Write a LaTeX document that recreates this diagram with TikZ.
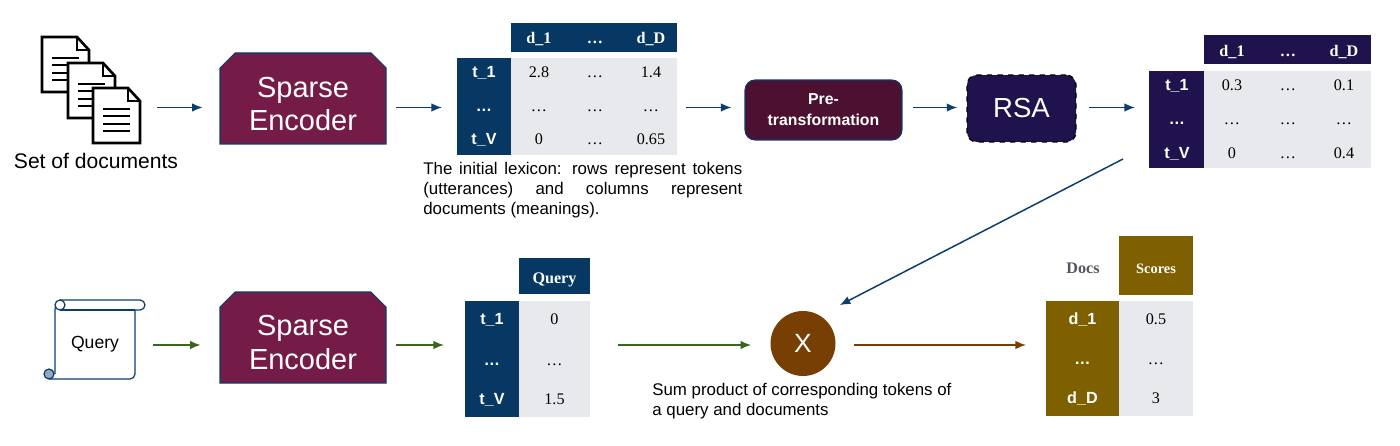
\documentclass[tikz,border=0pt]{standalone}
\usepackage{fontspec}
\setmainfont{Liberation Serif}
\setsansfont{Liberation Sans}
\usetikzlibrary{arrows.meta}
\definecolor{navyfill}{HTML}{073763}
\definecolor{navyline}{HTML}{0B3D6E}
\definecolor{encfill}{HTML}{741B47}
\definecolor{prefill}{HTML}{4C1130}
\definecolor{rsafill}{HTML}{20124D}
\definecolor{ochrefill}{HTML}{7F6000}
\definecolor{mulfill}{HTML}{783F04}
\definecolor{bodyfill}{HTML}{E8E9ED}
\definecolor{flowgreen}{HTML}{38661D}
\definecolor{docsgrey}{HTML}{555560}

\begin{document}
\begin{tikzpicture}[x=0.02cm,y=-0.02cm,
	every node/.style={font=\sffamily},
	encoder/.style={text=white,inner sep=0pt,minimum width=3.32cm,align=center,font=\sffamily\fontsize{16.5}{19.3}\selectfont},
	tabcell/.style={inner sep=0pt,outer sep=0pt},
	valtext/.style={anchor=base,inner sep=0pt,font=\rmfamily\fontsize{9.2}{11}\selectfont},
	headtext/.style={anchor=base,inner sep=0pt,text=white,font=\rmfamily\bfseries\fontsize{9.2}{11}\selectfont},
	rowtext/.style={anchor=base,inner sep=0pt,text=white,font=\sffamily\bfseries\fontsize{9.2}{11}\selectfont},
	caption/.style={inner sep=0pt,font=\sffamily\fontsize{9.6}{11.4}\selectfont},
	flow/.style={-{Latex[length=6pt,width=4.8pt]},navyline,line width=0.85pt},
	gap/.style 2 args={shorten <=#1*0.569pt,shorten >=#2*0.569pt},
	encshape/.pic={
		\draw[fill=encfill,draw=navyline,line width=0.6pt] (0,15) -- (15,0) -- (151,0) -- (166,15) -- (166,91) -- (0,91) -- cycle;
	},
	docicon/.pic={
		\draw[line width=1.5pt,fill=white] (0,0) -- (35,0) -- (47,13) -- (47,55) -- (0,55) -- cycle;
		\draw[line width=1.5pt] (35,0) -- (35,13) -- (47,13);
		\draw[line width=1.5pt] (10,21) -- (37,21) (10,28) -- (37,28) (10,36) -- (37,36) (10,43) -- (37,43);
	}]
	\useasboundingbox (0,0) rectangle (1400,446);
	\coordinate (rowA) at (0,107.5);
	\coordinate (rowB) at (0,345);
	\coordinate (crossTail) at (1123,159);

	\pic at (42,37) {docicon};
	\pic at (68,63) {docicon};
	\pic at (93,88) {docicon};
	\node[inner sep=0pt,minimum width=1.95cm,minimum height=2.12cm] (docset) at (90.7,90) {};
	\node[inner sep=0pt,font=\sffamily\fontsize{12}{14}\selectfont] (docname) at (96,161) {Set of documents};

	\pic at (220,53) {encshape};
	\pic at (220,292) {encshape};
	\node[encoder] (encA) at (303,104) {Sparse\\Encoder};
	\node[encoder] (encB) at (303,342.5) {Sparse\\Encoder};

	\node[tabcell,fill=navyfill,minimum width=3.32cm,minimum height=0.58cm] (tabAhead) at (594,37.5) {};
	\node[tabcell,fill=navyfill,minimum width=1.08cm,minimum height=1.94cm] (tabArows) at (484,106.5) {};
	\node[tabcell,fill=bodyfill,minimum width=3.32cm,minimum height=1.94cm] (tabAbody) at (594,106.5) {};
	\node[headtext] (tabAh1) at (539,44) {d\_1};
	\node[headtext] (tabAh2) at (595,44) {…};
	\node[headtext] (tabAh3) at (651,44) {d\_D};
	\node[rowtext] (tabAr1) at (484,78) {t\_1};
	\node[rowtext] (tabAr2) at (484,112) {…};
	\node[rowtext] (tabAr3) at (484,145) {t\_V};
	\node[valtext] (tabAv11) at (539,78) {2.8};
	\node[valtext] (tabAv12) at (595,78) {…};
	\node[valtext] (tabAv13) at (651,78) {1.4};
	\node[valtext] (tabAv21) at (539,112) {…};
	\node[valtext] (tabAv22) at (595,112) {…};
	\node[valtext] (tabAv23) at (651,112) {…};
	\node[valtext] (tabAv31) at (539,145) {0};
	\node[valtext] (tabAv32) at (595,145) {…};
	\node[valtext] (tabAv33) at (651,145) {0.65};
	\node[caption,anchor=north west,text width=6.38cm,align=justify] (lexnote) at (423,162) {\hyphenpenalty=10000 \tolerance=9999 The initial lexicon: rows represent tokens (utterances) and columns represent documents (meanings).\par};

	\node[fill=prefill,draw=navyline,line width=0.6pt,rounded corners=0.2cm,inner sep=0pt,minimum width=3.14cm,minimum height=1.2cm,text=white,align=center,font=\sffamily\bfseries\fontsize{9}{11.8}\selectfont] (pretrans) at (823.5,110) {Pre-\\transformation};
	\node[fill=rsafill,draw=black,line width=0.8pt,dashed,rounded corners=0.2cm,inner sep=0pt,minimum width=2.18cm,minimum height=1.34cm,text=white,font=\sffamily\fontsize{15.7}{18}\selectfont] (rsa) at (1021.5,108.5) {RSA};

	\node[tabcell,fill=rsafill,minimum width=3.34cm,minimum height=0.58cm] (tabBhead) at (1287.5,49.5) {};
	\node[tabcell,fill=rsafill,minimum width=1.1cm,minimum height=1.94cm] (tabBrows) at (1176.5,119.5) {};
	\node[tabcell,fill=bodyfill,minimum width=3.34cm,minimum height=1.94cm] (tabBbody) at (1287.5,119.5) {};
	\node[headtext] (tabBh1) at (1232,57) {d\_1};
	\node[headtext] (tabBh2) at (1288,57) {…};
	\node[headtext] (tabBh3) at (1344,57) {d\_D};
	\node[rowtext] (tabBr1) at (1177,91) {t\_1};
	\node[rowtext] (tabBr2) at (1177,125) {…};
	\node[rowtext] (tabBr3) at (1177,158) {t\_V};
	\node[valtext] (tabBv11) at (1232,91) {0.3};
	\node[valtext] (tabBv12) at (1288,91) {…};
	\node[valtext] (tabBv13) at (1344,91) {0.1};
	\node[valtext] (tabBv21) at (1232,125) {…};
	\node[valtext] (tabBv22) at (1288,125) {…};
	\node[valtext] (tabBv23) at (1344,125) {…};
	\node[valtext] (tabBv31) at (1232,158) {0};
	\node[valtext] (tabBv32) at (1288,158) {…};
	\node[valtext] (tabBv33) at (1344,158) {0.4};

	\draw[navyline,line width=0.7pt,rounded corners=0.1cm] (135,310) -- (145,310) -- (145,300) -- (60,300);
	\draw[navyline,line width=0.7pt,rounded corners=0.1cm] (55,374) -- (55,305) -- (60,300);
	\draw[navyline,line width=0.7pt] (60,310) -- (135,310);
	\draw[navyline,line width=0.7pt,rounded corners=0.1cm] (135,310) -- (135,379) -- (49,379);
	\draw[navyline,line width=0.7pt,fill=white] (60,305) circle (0.1cm);
	\draw[navyline,line width=0.7pt,fill=navyline!45] (49,374) circle (0.1cm);
	\node[inner sep=0pt,minimum width=1.6cm,minimum height=1.58cm,font=\sffamily\fontsize{10}{12}\selectfont] (scroll) at (95,344.5) {Query};

	\node[tabcell,fill=navyfill,minimum width=1.42cm,minimum height=0.72cm] (tabChead) at (554.5,276) {};
	\node[tabcell,fill=navyfill,minimum width=1.08cm,minimum height=2.32cm] (tabCrows) at (492,359) {};
	\node[tabcell,fill=bodyfill,minimum width=1.42cm,minimum height=2.32cm] (tabCbody) at (554.5,359) {};
	\node[headtext] (tabCh1) at (554.5,283) {Query};
	\node[rowtext] (tabCr1) at (492,324) {t\_1};
	\node[rowtext] (tabCr2) at (492,365) {…};
	\node[rowtext] (tabCr3) at (492,404) {t\_V};
	\node[valtext] (tabCv1) at (554.5,324) {0};
	\node[valtext] (tabCv2) at (554.5,365) {…};
	\node[valtext] (tabCv3) at (554.5,404) {1.5};

	\node[circle,fill=mulfill,inner sep=0pt,minimum size=1.3cm,text=white,font=\sffamily\fontsize{15}{17}\selectfont] (mulX) at (803,343.5) {X};
	\node[caption,anchor=north west,align=left] (sumnote) at (652,383) {Sum product of corresponding tokens of\\a query and documents};

	\node[anchor=base,inner sep=0pt,text=docsgrey,font=\rmfamily\bfseries\fontsize{9.2}{11}\selectfont] (tabDdocs) at (1083,273) {Docs};
	\node[tabcell,fill=ochrefill,minimum width=1.48cm,minimum height=1.18cm] (tabDhead) at (1156,265.5) {};
	\node[tabcell,fill=ochrefill,minimum width=1.46cm,minimum height=2.3cm] (tabDrows) at (1082.5,358.5) {};
	\node[tabcell,fill=bodyfill,minimum width=1.48cm,minimum height=2.3cm] (tabDbody) at (1156,358.5) {};
	\node[headtext,font=\rmfamily\bfseries\fontsize{8.2}{10}\selectfont] (tabDh1) at (1156,273) {Scores};
	\node[rowtext] (tabDr1) at (1082.5,324) {d\_1};
	\node[rowtext] (tabDr2) at (1082.5,364) {…};
	\node[rowtext] (tabDr3) at (1082.5,403) {d\_D};
	\node[valtext] (tabDv1) at (1156,324) {0.5};
	\node[valtext] (tabDv2) at (1156,364) {…};
	\node[valtext] (tabDv3) at (1156,403) {3};

	\draw[flow,gap={17.5}{17}] (docset.east |- rowA) -- (encA.west |- rowA);
	\draw[flow,gap={10}{15}] (encA.east |- rowA) -- (tabArows.west |- rowA);
	\draw[flow,gap={9}{13}] (tabAbody.east |- rowA) -- (pretrans.west |- rowA);
	\draw[flow,gap={10}{9}] (pretrans.east |- rowA) -- (rsa.west |- rowA);
	\draw[flow,gap={12}{14}] (rsa.east |- rowA) -- (tabBrows.west |- rowA);
	\draw[flow,flowgreen,gap={18}{19}] (scroll.east |- rowB) -- (encB.west |- rowB);
	\draw[flow,flowgreen,gap={10}{21}] (encB.east |- rowB) -- (tabCrows.west |- rowB);
	\draw[flow,flowgreen,gap={28}{19}] (tabCbody.east |- rowB) -- (mulX.west |- rowB);
	\draw[flow,mulfill,gap={18}{20}] (mulX.east |- rowB) -- (tabDrows.west |- rowB);
	\draw[flow,shorten >=12.7pt] (crossTail) -- (mulX.59);
\end{tikzpicture}
\end{document}
